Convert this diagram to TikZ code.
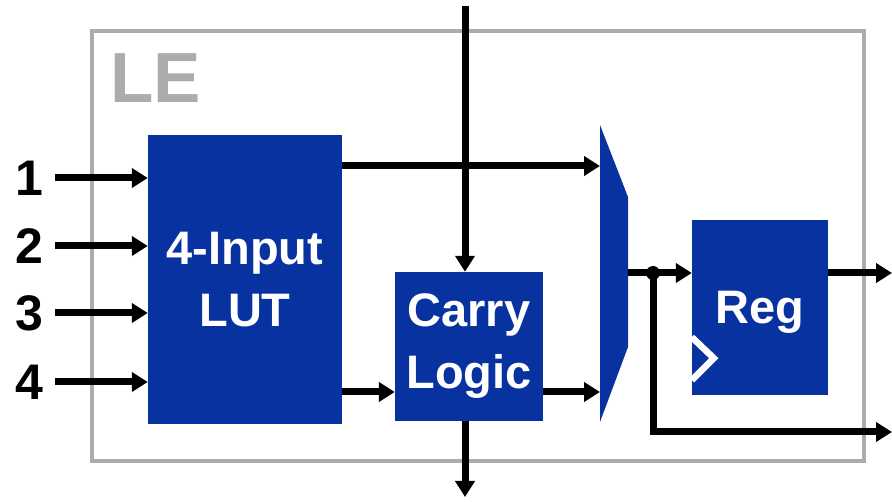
\documentclass[tikz,border=0pt]{standalone}
\usepackage{fontspec}
\setmainfont{Liberation Sans}
\usetikzlibrary{arrows.meta}
\definecolor{leblue}{RGB}{8,50,160}
\definecolor{legray}{RGB}{172,172,172}
\begin{document}
\begin{tikzpicture}
    [x=1pt,y=-1pt,
     unit/.style={fill=leblue,text=white,align=center,font=\fontsize{47}{62}\selectfont\bfseries},
     wire/.style={line width=7pt,-{Triangle[length=16pt,width=19pt]}},
     pin/.style={font=\fontsize{50}{54}\selectfont\bfseries,inner xsep=12pt,inner ysep=0pt}]
    \useasboundingbox (0,0) rectangle (892,502);
    % logic element frame
    \draw[legray,line width=4.5pt] (92,31) rectangle (864,461);
    \node[anchor=base west,inner sep=0pt,text=legray,font=\fontsize{71}{75}\selectfont\bfseries] (le) at (110,103) {LE};
    % blocks
    \node[unit,minimum width=194pt,minimum height=289pt] (lut) at (245,279.5) {4-Input\\LUT};
    \node[unit,minimum width=148pt,minimum height=149pt] (carry) at (469,346.5) {Carry\\Logic};
    \node[unit,minimum width=136pt,minimum height=175pt,text depth=0pt] (reg) at (760,307.5) {Reg};
    \draw[white,line width=6.5pt] ([yshift=58pt]reg.south west) -- ([xshift=22pt,yshift=37pt]reg.south west) -- ([yshift=15pt]reg.south west);
    \fill[leblue] (600,125) -- (628,197) -- (628,347) -- (600,422) -- cycle;
    \coordinate (mxa) at (600,166);
    \coordinate (mxb) at (600,392);
    \coordinate (mo) at (628,273);
    \coordinate (jn) at (653,273);
    \coordinate (cin) at (465,6);
    \coordinate (cout) at (465,497);
    \coordinate (q) at (892,273);
    \coordinate (fb) at (892,432);
    % inputs
    \foreach \i/\y in {1/178,2/246,3/313,4/382}{
      \node[pin] (in\i) at (29,\y) {\i};
      \draw[wire] (in\i.east) -- (lut.west |- in\i);
    }
    % connections
    \draw[wire] (lut.east |- mxa) -- (mxa);
    \draw[wire] (cin) -- (cin |- carry.north);
    \draw[wire] (lut.east |- mxb) -- (carry.west |- mxb);
    \draw[wire] (carry.east |- mxb) -- (mxb);
    \draw[wire] (carry.south -| cout) -- (cout);
    \draw[wire] (mo) -- (reg.west |- mo);
    \fill (jn) circle (7pt);
    \draw[wire] (jn) |- (fb);
    \draw[wire] (reg.east |- q) -- (q);
\end{tikzpicture}
\end{document}
